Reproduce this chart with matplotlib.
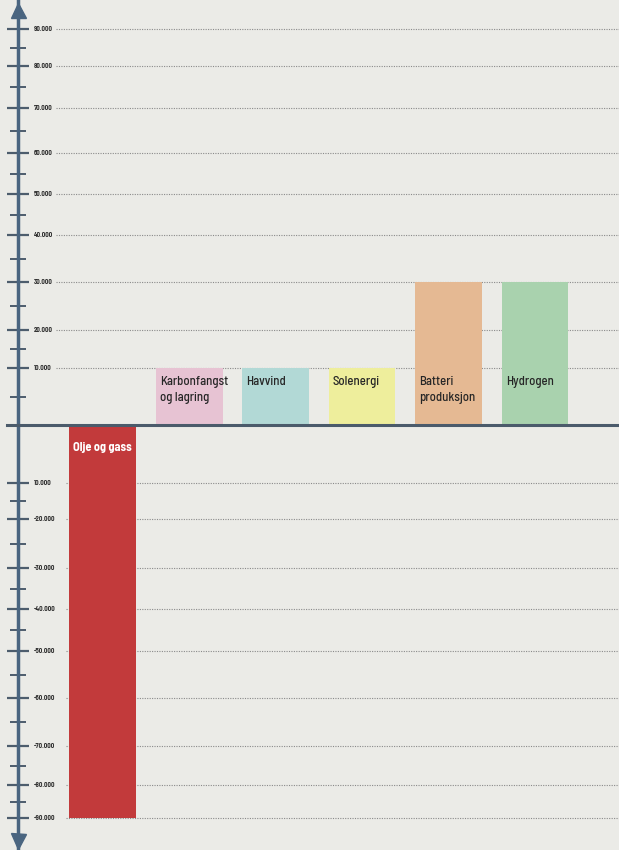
import numpy as np
import matplotlib
matplotlib.use("Agg")
import matplotlib.pyplot as plt
import matplotlib.transforms as mtransforms

# ── Data ───────────────────────────────────────────────────────────────────
categories = ["Olje og gass", "Karbonfangst\nog lagring", "Havvind",
              "Solenergi", "Batteri\nproduksjon", "Hydrogen"]
values = [-90000, 10000, 10000, 10000, 30000, 30000]
colors = ["#c23a3b", "#e7c3d3", "#b2d9d6", "#eeee9c", "#e5b993", "#a9d2ae"]

tick_values = [90000, 80000, 70000, 60000, 50000, 40000, 30000, 20000, 10000,
               -10000, -20000, -30000, -40000, -50000, -60000, -70000, -80000, -90000]
tick_labels = ["90.000", "80.000", "70.000", "60.000", "50.000", "40.000",
               "30.000", "20.000", "10.000",
               "10.000", "-20.000", "-30.000", "-40.000", "-50.000",
               "-60.000", "-70.000", "-80.000", "-90.000"]
minor_values = [85000, 75000, 65000, 55000, 45000, 35000, 25000, 15000, 5000,
                -15000, -25000, -35000, -45000, -55000, -65000, -75000, -85000]

# the drawn scale is hand-made and slightly uneven: value -> height (px from bottom)
scale_vals = [-100000, -90000, -80000, -70000, -60000, -50000, -40000, -30000, -20000,
              -10000, 0, 10000, 20000, 30000, 40000, 50000, 60000, 70000, 80000,
              90000, 100000]
scale_pix = [-5, 32, 65, 104, 152, 199, 241, 282, 331, 367, 425, 482, 520, 568,
             615, 656, 697, 742, 784, 821, 858]

FIG_W, FIG_H = 619, 850
BG = "#ebebe7"
AXIS_C = "#4a6580"
FONT = ["Barlow Semi Condensed", "DejaVu Sans"]


def fwd(v):
    return np.interp(v, scale_vals, scale_pix)


def inv(p):
    return np.interp(p, scale_pix, scale_vals)


# ── Plot ───────────────────────────────────────────────────────────────────
plt.rcParams["font.family"] = FONT

fig = plt.figure(figsize=(FIG_W / 100, FIG_H / 100), dpi=100, facecolor=BG)
left = 18 / FIG_W
ax = fig.add_axes([left, 0, 1 - left, 1], facecolor=BG)
ax.set_yscale("function", functions=(fwd, inv))
ax.set_ylim(inv(0), inv(FIG_H))
ax.set_xlim(-0.98, 5.97)

x = np.arange(len(categories))
width = 0.77
ax.bar(x, values, width=width, color=colors, zorder=2)

# grid lines + labels
lab_tr = mtransforms.blended_transform_factory(ax.transAxes, ax.transData)
for v, lab in zip(tick_values, tick_labels):
    start = 0.064 if v > 0 else 0.08
    ax.axhline(v, xmin=start, xmax=1, color="#8a8a8a", lw=0.8,
               ls=(0, (1, 1.2)), zorder=1)
    ax.text(0.027, v, lab, transform=lab_tr, fontsize=4.9, fontweight="bold",
            color="#2f2f2f", va="center", ha="left")

# zero line
ax.axhline(0, xmin=-11 / 601, xmax=1, color="#4b5b6b", lw=2.2,
           clip_on=False, zorder=4)

# bar labels
for i, (cat, v) in enumerate(zip(categories, values)):
    if v < 0:
        ax.annotate(cat, xy=(i, 0), xytext=(0, -22), textcoords="offset pixels",
                    ha="center", va="center", color="white", fontsize=8.8,
                    fontweight="bold", zorder=5)
    else:
        ax.annotate(cat, xy=(i - width / 2, 10000), xytext=(4, -8),
                    textcoords="offset pixels", ha="left", va="top",
                    color="#262626", fontsize=9.2, fontweight="medium",
                    linespacing=1.42, zorder=5)

# axis with arrows
ax.set_yticks(tick_values)
ax.set_yticks(minor_values, minor=True)
ax.tick_params(axis="y", which="major", direction="inout", length=16.5,
               width=1.6, color="#4d5d6d", labelleft=False)
ax.tick_params(axis="y", which="minor", direction="inout", length=12,
               width=1.4, color="#4d5d6d", labelleft=False)
ax.set_xticks([])
for s in ["top", "right", "bottom"]:
    ax.spines[s].set_visible(False)
ax.spines["left"].set_color(AXIS_C)
ax.spines["left"].set_linewidth(2.5)
ax.plot([0], [1 - 9.5 / FIG_H], marker="^", ms=10.8, color=AXIS_C,
        transform=ax.transAxes, clip_on=False)
ax.plot([0], [9 / FIG_H], marker="v", ms=10.8, color=AXIS_C,
        transform=ax.transAxes, clip_on=False)

fig.savefig("out.png", dpi=100, facecolor=BG)
